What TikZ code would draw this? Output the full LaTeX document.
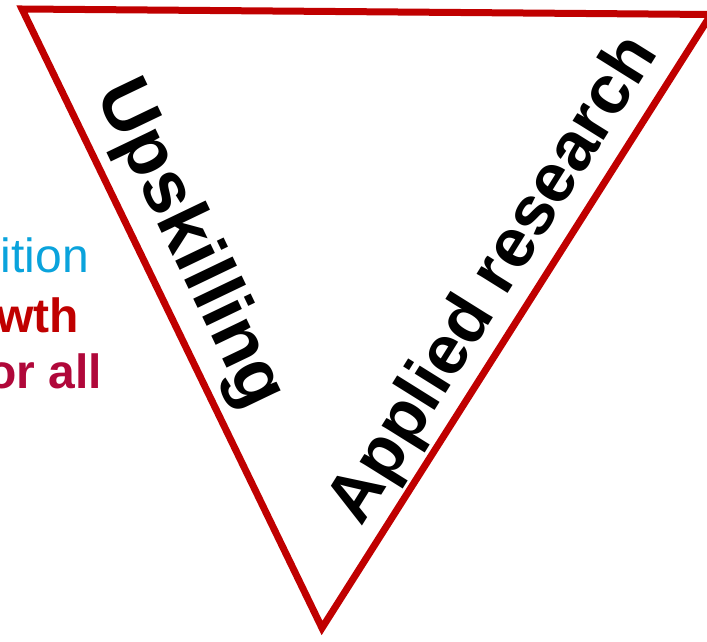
\documentclass[tikz,border=0pt]{standalone}
\usepackage{fontspec}
\setmainfont{Liberation Sans}
\definecolor{tri}{HTML}{C00000}
\definecolor{cyanw}{HTML}{0AA3DC}
\definecolor{redw}{HTML}{C00000}
\definecolor{crim}{HTML}{B0083A}
\tikzset{
  edgetext/.style={font=\fontsize{70}{70}\selectfont\bfseries, inner sep=0pt},
  sidetext/.style={anchor=base east, inner sep=0pt, font=\fontsize{48}{48}\selectfont}
}
\begin{document}
\begin{tikzpicture}[x=1pt,y=-1pt]
\useasboundingbox (0,0) rectangle (707,642);
\clip (0,0) rectangle (707,642);
\coordinate (tl) at (22,9);
\coordinate (tr) at (711,14.5);
\coordinate (bt) at (322,628);
\draw[tri, line width=7pt, line join=miter] (tl) -- (tr) -- (bt) -- cycle;
\node[edgetext, font=\fontsize{74}{74}\selectfont\bfseries, rotate=-64.4] (up) at (189,245) {Upskilling};
\node[edgetext, font=\fontsize{69}{69}\selectfont\bfseries, rotate=58] (ar) at (495,281) {Applied research};
\node[sidetext, text=cyanw] (t1) at (89,272) {dition};
\node[sidetext, text=redw, font=\fontsize{48}{48}\selectfont\bfseries] (t2) at (79,332) {wth};
\node[sidetext, text=crim, font=\fontsize{48}{48}\selectfont\bfseries] (t3) at (102,388) {or all};
\end{tikzpicture}
\end{document}
